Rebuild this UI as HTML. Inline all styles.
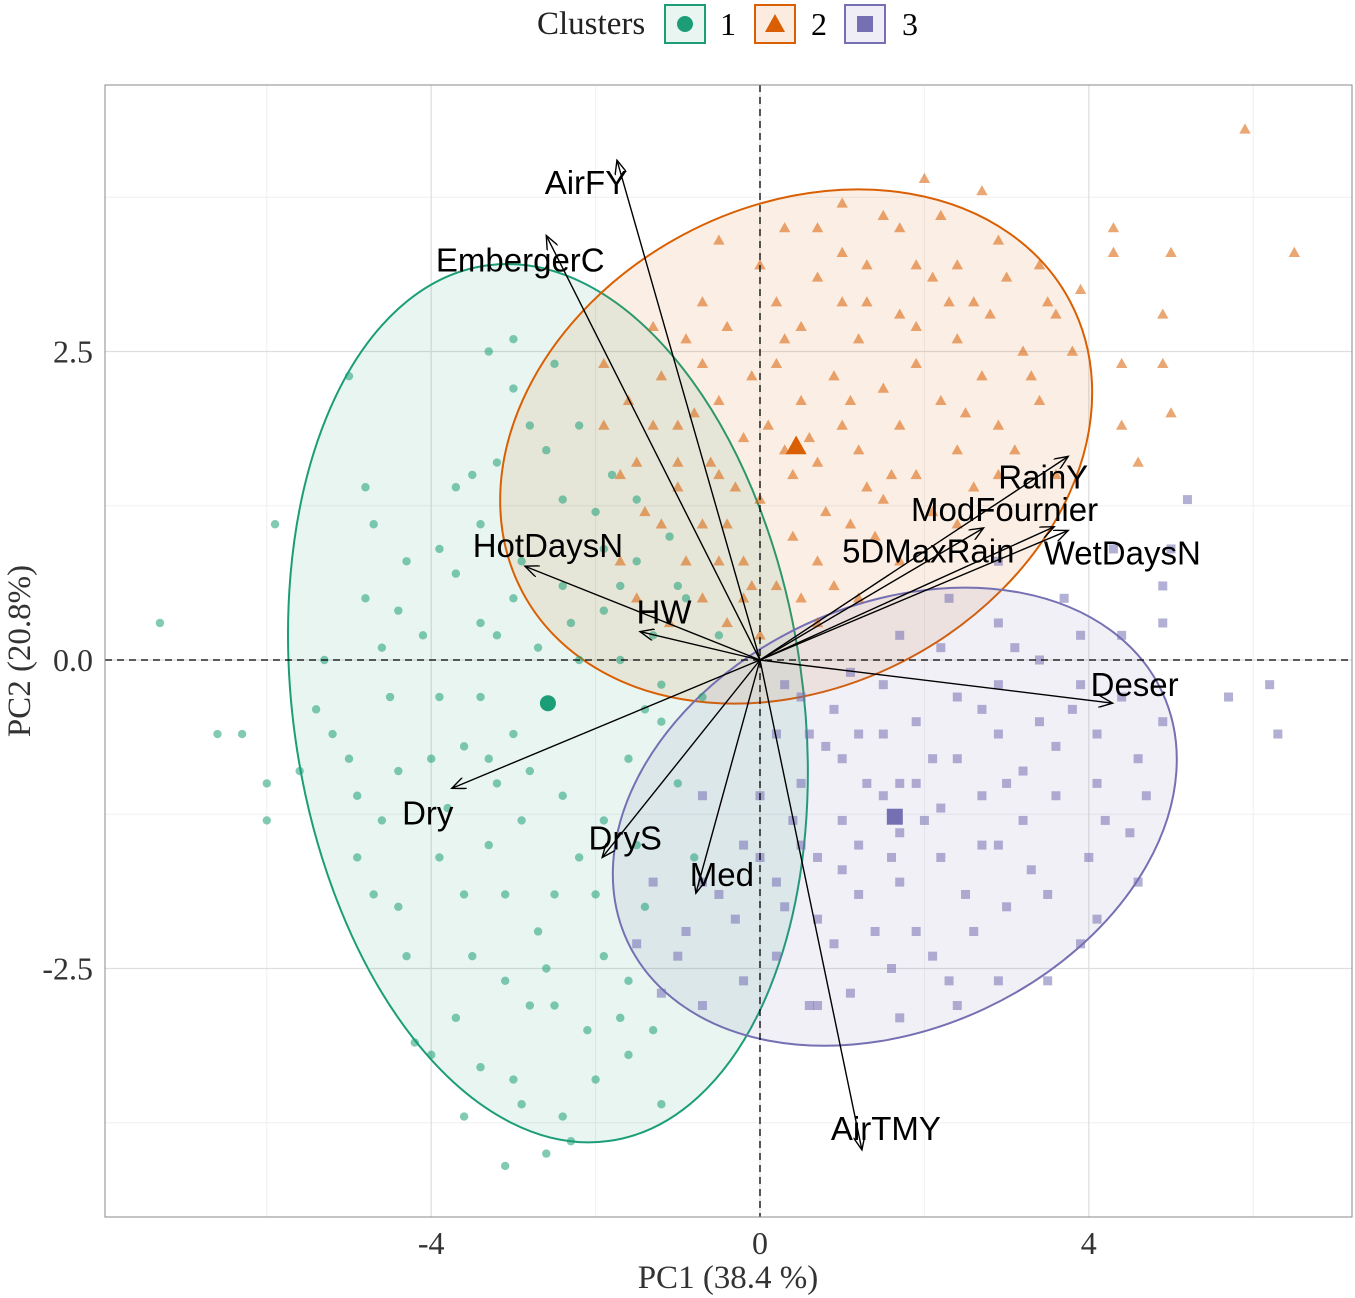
<!DOCTYPE html>
<html><head><meta charset="utf-8"><style>
body{margin:0;background:#fff}
svg{display:block}
.tk{font-family:"Liberation Serif",serif;font-size:32px;fill:#333}
.vl{font-family:"Liberation Sans",sans-serif;font-size:33px;fill:#000}
</style></head><body>
<svg id="c" width="1355" height="1298" xmlns="http://www.w3.org/2000/svg">
<defs><marker id="ah" markerWidth="16" markerHeight="12" refX="14" refY="6" orient="auto" markerUnits="userSpaceOnUse"><path d="M0,0 L14,6 L0,12" fill="none" stroke="#000" stroke-width="1.4"/></marker></defs>
<g>
<text x="537" y="34" style="font-family:'Liberation Serif',serif;font-size:33px" fill="#222">Clusters</text>
<g><rect x="665" y="5" width="40" height="38" fill="#e8f5f0" stroke="#1b9e77" stroke-width="2"/><circle cx="685" cy="24" r="8" fill="#1b9e77"/><text x="720" y="35" style="font-family:'Liberation Serif',serif;font-size:32px">1</text></g>
<g><rect x="755" y="5" width="40" height="38" fill="#fcece0" stroke="#d95f02" stroke-width="2"/><path d="M775,14 L785,32 L765,32Z" fill="#d95f02"/><text x="811" y="35" style="font-family:'Liberation Serif',serif;font-size:32px">2</text></g>
<g><rect x="845" y="5" width="40" height="38" fill="#efeef6" stroke="#7570b3" stroke-width="2"/><rect x="857" y="16" width="16" height="16" fill="#7570b3"/><text x="902" y="35" style="font-family:'Liberation Serif',serif;font-size:32px">3</text></g>
</g>
<g id="grid"></g>
<g id="ell"></g>
<g id="pts"></g>
<g id="ax"></g>
<g id="arr"></g>
<rect x="105" y="85" width="1247" height="1132" fill="none" stroke="#888" stroke-width="1"/>
<text x="728" y="1288" text-anchor="middle" class="tk" style="font-size:33px" fill="#222">PC1 (38.4 %)</text>
<text transform="translate(30,651) rotate(-90)" text-anchor="middle" class="tk" style="font-size:33px">PC2 (20.8%)</text>
</svg>
<script>
const xTicks=[-4,0,4];
const yTicks=[-2.5,0,2.5];
const xMinor=[-6,-2,2,6];
const yMinor=[-3.75,-1.25,1.25,3.75];
const g1=[[-7.3,0.3],[-5.9,1.1],[-6.6,-0.6],[-6.3,-0.6],[-6.0,-1.0],[-6.0,-1.3],[-5.0,2.3],[-5.3,0.0],[-5.4,-0.4],[-5.0,-0.8],[-4.7,1.1],[-4.4,0.4],[-4.6,-1.3],[-4.4,-2.0],[-4.3,-2.4],[-4.2,-3.1],[-4.0,-3.2],[-3.6,-3.7],[-3.1,-4.1],[-2.6,-4.0],[-2.3,-3.9],[-2.4,-3.7],[-3.0,-3.4],[-3.4,-3.3],[-2.5,-2.8],[-2.1,-3.0],[-1.7,-2.9],[-1.3,-3.0],[-1.2,-3.6],[-1.6,-2.6],[-1.9,-2.4],[-2.7,-2.2],[-3.1,-1.9],[-2.9,-1.3],[-2.4,-1.1],[-1.9,-1.3],[-1.6,-0.8],[-1.2,-0.5],[-0.7,-0.3],[-1.3,0.2],[-1.9,0.4],[-2.4,0.6],[-2.9,0.8],[-3.4,1.1],[-3.7,1.4],[-3.5,1.5],[-3.2,1.6],[-3.0,2.2],[-3.3,2.5],[-3.0,2.6],[-2.5,2.4],[-2.2,1.9],[-1.8,1.5],[-1.5,1.3],[-1.1,1.0],[-0.9,0.5],[-0.5,0.2],[-3.4,0.3],[-4.1,0.2],[-3.9,-0.3],[-3.6,-0.7],[-3.2,-1.0],[-3.9,-1.6],[-3.5,-2.4],[-2.8,-2.8],[-4.9,-1.1],[-5.2,-0.6],[-4.3,0.8],[-2.6,1.7],[-2.4,1.3],[-1.9,0.9],[-1.7,0.6],[-2.2,0.0],[-2.7,0.1],[-3.2,0.2],[-1.7,0.0],[-1.2,-0.2],[-3.4,-0.3],
[-5.6,-0.9],[-4.8,0.5],[-4.5,-0.3],[-4.0,-0.8],[-3.8,-1.2],[-3.3,-1.5],[-3.0,-0.6],[-2.8,-0.9],[-2.2,-1.6],[-2.0,-1.9],[-1.5,-1.5],[-1.4,-2.0],[-2.6,-2.5],[-3.1,-2.6],[-3.7,-2.9],[-2.0,-3.4],[-1.6,-3.2],[-2.9,-3.6],[-3.3,-0.8],[-4.4,-0.9],[-4.6,0.1],[-3.0,0.5],[-2.3,0.3],[-1.5,0.8],[-1.0,0.6],[-2.0,1.2],[-2.8,1.9],[-3.7,0.7],[-3.9,0.9],[-4.8,1.4],[-1.4,-0.4],[-1.0,-1.0],[-0.8,-1.6],[-2.5,-1.9],[-3.6,-1.9],[-4.7,-1.9],[-4.9,-1.6]];
const g2=[[5.9,4.3],[6.5,3.3],[4.3,3.5],[4.3,3.3],[5.0,3.3],[4.9,2.8],[4.9,2.4],[4.4,2.4],[4.4,1.9],[2.7,3.8],[2.9,3.4],[2.4,3.2],[1.7,3.5],[1.3,3.2],[0.7,3.1],[0.2,2.9],[-0.4,2.7],[-0.7,2.4],[-1.2,2.3],[-1.6,2.1],[-1.9,2.4],[-1.9,1.9],[-1.5,1.6],[-1.0,1.4],[-0.7,1.1],[-0.5,0.8],[-0.2,0.5],[0.0,0.2],[0.5,0.5],[0.7,0.8],[1.1,1.1],[1.5,1.3],[1.9,1.5],[2.4,1.7],[2.9,1.9],[3.4,2.1],[3.8,2.5],[3.5,2.9],[3.0,3.1],[2.3,2.9],[1.7,2.8],[1.2,2.6],[0.9,2.3],[0.5,2.1],[0.1,1.9],[-0.2,1.8],[-0.6,1.6],[-1.0,1.9],[-1.3,1.9],[-1.7,1.5],[-1.2,1.1],[-0.9,0.8],[-0.4,1.1],[0.0,1.3],[0.4,1.5],[0.7,1.6],[1.2,1.7],[1.7,1.9],[2.2,2.1],[2.7,2.3],[3.2,2.5],[2.4,2.6],[1.9,2.4],[1.5,2.2],[1.0,1.9],[0.6,1.8],[0.2,2.4],[-0.1,2.3],[-0.5,2.1],[-0.7,2.9],[0.0,3.2],[0.7,3.5],[1.5,3.6],[2.1,3.1],[2.8,2.8],[3.6,2.8],[2.9,1.5],[2.4,1.1],[1.7,0.8],[1.2,0.5],[0.7,0.3],[0.2,0.6],[-0.2,0.8],[-0.7,0.5],[-1.1,0.3],[-1.7,0.8],[-1.5,0.5],[-1.0,1.6],[-1.3,2.7],[-0.5,3.4],[0.5,2.7],[1.3,2.9],[2.2,3.6],[3.4,3.2],[3.9,3.0],[-0.5,1.5],[1.6,1.5],
[0.3,3.5],[1.0,3.3],[1.9,3.2],[2.6,2.9],[3.3,2.3],[3.1,1.7],[2.6,1.4],[2.1,1.2],[1.4,1.0],[0.9,0.6],[0.4,1.0],[-0.3,1.4],[-0.8,2.0],[-1.4,1.2],[-0.9,2.6],[0.3,2.6],[1.0,2.9],[1.9,2.7],[2.5,2.0],[1.3,1.4],[0.8,1.2],[-0.1,0.6],[-0.4,0.3],[0.3,1.7],[1.1,2.1],[3.6,1.5],[4.6,1.6],[5.0,2.0],[2.0,3.9],[1.0,3.7]];
const g3=[[5.2,1.3],[4.9,0.6],[6.2,-0.2],[6.3,-0.6],[5.7,-0.3],[4.9,0.3],[3.5,-2.6],[2.9,0.8],[2.3,0.5],[1.7,0.2],[1.1,-0.1],[0.5,-0.3],[0.2,-0.6],[0.0,-1.1],[-0.2,-1.5],[-0.5,-1.9],[-1.0,-2.4],[-1.2,-2.7],[-0.7,-2.8],[-0.2,-2.6],[0.2,-2.4],[0.7,-2.1],[1.2,-1.9],[1.7,-1.8],[2.2,-1.6],[2.7,-1.5],[3.2,-1.3],[3.6,-1.1],[4.1,-1.0],[4.6,-0.8],[4.9,-0.5],[4.4,-0.3],[3.9,-0.2],[3.4,-0.5],[2.9,-0.6],[2.4,-0.8],[1.9,-1.0],[1.5,-1.1],[1.0,-1.3],[0.5,-1.5],[0.2,-1.8],[0.7,-1.6],[1.2,-1.5],[1.7,-1.4],[2.2,-1.2],[2.7,-1.1],[3.2,-0.9],[3.6,-0.7],[4.1,-0.6],[4.5,-1.4],[4.0,-1.6],[3.5,-1.9],[3.0,-2.0],[2.6,-2.2],[2.1,-2.4],[1.6,-2.5],[1.1,-2.7],[0.6,-2.8],[0.5,-1.0],[1.0,-0.8],[1.5,-0.6],[1.9,-0.5],[2.4,-0.3],[2.9,-0.2],[3.4,0.0],[3.9,0.2],[4.4,0.2],[2.9,0.3],[2.2,0.1],[1.5,-0.2],[0.9,-0.4],[-0.7,-1.8],[-1.3,-1.8],[-1.5,-2.3],[-0.7,-1.1],[0.7,-2.8],[1.7,-2.9],[2.4,-2.8],[2.9,-2.6],[4.1,-2.1],[4.6,-1.8],[1.7,-1.0],[2.9,-1.5],
[0.3,-0.2],[0.8,-0.7],[1.3,-1.0],[2.0,-1.3],[2.5,-1.9],[3.0,-1.0],[3.8,-0.4],[4.2,-1.3],[3.3,-1.7],[1.4,-2.2],[0.9,-2.3],[0.3,-2.0],[-0.3,-2.1],[-0.9,-2.2],[0.0,-1.6],[0.4,-1.3],[1.2,-0.6],[2.1,-0.8],[2.7,-0.4],[3.1,0.1],[3.7,0.5],[4.3,0.9],[5.0,0.9],[4.7,-1.1],[3.9,-2.3],[2.3,-2.6],[1.9,-2.2],[1.0,-1.7],[1.6,-1.6],[0.6,-0.6]];
const centroids=[[-2.58,-0.35],[0.44,1.73],[1.64,-1.27]];
const ellCenters=[[-2.58,-0.35],[0.44,1.73],[1.64,-1.27]];
const ellRx=[255,310,295];
const ellRy=[442,240,212];
const ellAngle=[-8,-28,-25];
const varNames=["AirFY","EmbergerC","HotDaysN","HW","Dry","DryS","Med","AirTMY","Deser","WetDaysN","5DMaxRain","ModFournier","RainY"];
const varX=[-1.74,-2.60,-2.86,-1.46,-3.75,-1.92,-0.78,1.24,4.29,3.75,3.58,2.72,3.75];
const varY=[4.05,3.44,0.76,0.23,-1.04,-1.60,-1.89,-3.97,-0.35,1.05,1.08,1.07,1.65];
const lblDx=[-31,-26,23,24,-24,23,26,24,22,54,-126,21,-25];
const lblDy=[34,36,-9,-8,36,-8,-7,-10,-7,34,36,-7,32];
const sx=v=>760+v*82.2, sy=v=>660-v*123.4;
const NS="http://www.w3.org/2000/svg";
function mk(p,t,a){const e=document.createElementNS(NS,t);for(const k in a)e.setAttribute(k,a[k]);p.appendChild(e);return e;}
const grid=document.getElementById('grid');
xMinor.forEach(v=>{const l=mk(grid,'line',{x1:sx(v),x2:sx(v),y1:85,y2:1217,stroke:'#f0f0f0','stroke-width':1});

});
yMinor.forEach(v=>{const l=mk(grid,'line',{x1:105,x2:1352,y1:sy(v),y2:sy(v),stroke:'#f0f0f0','stroke-width':1});

});
xTicks.forEach(v=>{const l=mk(grid,'line',{x1:sx(v),x2:sx(v),y1:85,y2:1217,stroke:'#dedede','stroke-width':1.2});


const t=mk(grid,'text',{x:sx(v),y:1254,'text-anchor':'middle',class:'tk'});t.textContent=v;

});
yTicks.forEach(v=>{const l=mk(grid,'line',{x1:105,x2:1352,y1:sy(v),y2:sy(v),stroke:'#dedede','stroke-width':1.2});


const t=mk(grid,'text',{x:93,y:sy(v)+11,'text-anchor':'end',class:'tk'});t.textContent=v.toFixed(1);

});
const cols=['#1b9e77','#d95f02','#7570b3'];
const ell=document.getElementById('ell');
ellCenters.forEach((c,i)=>{const e=mk(ell,'ellipse',{cx:0,cy:0,rx:ellRx[i],ry:ellRy[i],transform:`translate(${sx(c[0])},${sy(c[1])}) rotate(${ellAngle[i]})`,fill:cols[i],'fill-opacity':0.1,stroke:cols[i],'stroke-width':2});

});
const pts=document.getElementById('pts');
function dot(i,x,y,big){const X=sx(x),Y=sy(y);let e;const op=big?1:0.55;
if(i==0)e=mk(pts,'circle',{cx:X,cy:Y,r:big?8:4.2,fill:cols[0],'fill-opacity':op});
else if(i==1){const s=big?11:6;e=mk(pts,'path',{d:`M${X},${Y-s} L${X+s*0.95},${Y+s*0.7} L${X-s*0.95},${Y+s*0.7}Z`,fill:cols[1],'fill-opacity':op});}
else{const s=big?8:4.5;e=mk(pts,'rect',{x:X-s,y:Y-s,width:2*s,height:2*s,fill:cols[2],'fill-opacity':op});}
return e;}
[g1,g2,g3].forEach((g,i)=>g.forEach(p=>{const e=dot(i,p[0],p[1],false);

}));
centroids.forEach((c,i)=>{const e=dot(i,c[0],c[1],true);

});
const ax=document.getElementById('ax');
const a1=mk(ax,'line',{x1:105,x2:1352,y1:sy(0),y2:sy(0),stroke:'#000','stroke-width':1.3,'stroke-dasharray':'7,5'});


const a2=mk(ax,'line',{x1:sx(0),x2:sx(0),y1:85,y2:1217,stroke:'#000','stroke-width':1.3,'stroke-dasharray':'7,5'});


const arr=document.getElementById('arr');
varNames.forEach((n,i)=>{const l=mk(arr,'line',{x1:sx(0),y1:sy(0),x2:sx(varX[i]),y2:sy(varY[i]),stroke:'#000','stroke-width':1.4,'marker-end':'url(#ah)'});


const t=mk(arr,'text',{x:sx(varX[i])+lblDx[i],y:sy(varY[i])+lblDy[i],'text-anchor':'middle',class:'vl'});t.textContent=n;

});
</script>
</body></html>
